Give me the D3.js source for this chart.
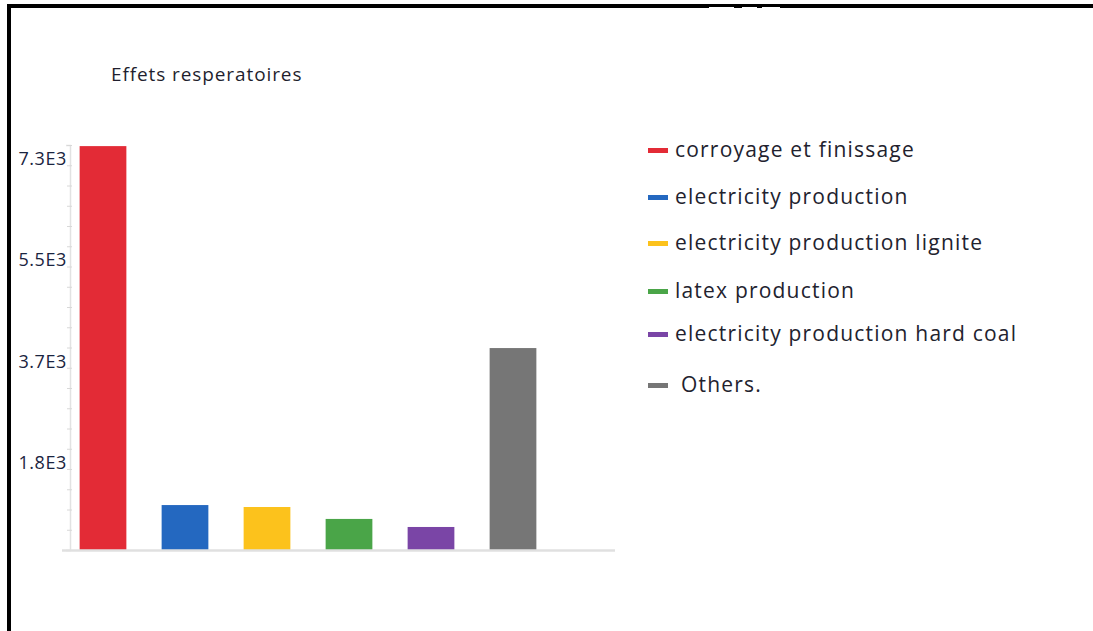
<!DOCTYPE html>
<html>
<head>
<meta charset="utf-8">
<script src="https://cdn.jsdelivr.net/npm/d3@7/dist/d3.min.js"></script>
<style>
  html, body { margin: 0; padding: 0; background: #fff; }
  svg { display: block; }
  text { font-family: "Open Sans", "Noto Sans", sans-serif; }
</style>
</head>
<body>
<svg id="chart" width="1093" height="631"></svg>
<script>
const title = "Effets resperatoires";
const categories = ["corroyage et finissage", "electricity production", "electricity production lignite", "latex production", "electricity production hard coal", "Others."];
const values = [7280, 810, 775, 560, 415, 3640];
const colors = ["#e32b36", "#2468c0", "#fcc21c", "#4aa548", "#7a45a6", "#767676"];
const tickValues = [1825, 3650, 5475, 7300];
const tickLabels = ["1.8E3", "3.7E3", "5.5E3", "7.3E3"];
const yMax = 7300;
const minorStep = 365;

const svg = d3.select("#chart");

// frame (top and left borders)
svg.append("rect").attr("x", 7).attr("y", 4).attr("width", 1086).attr("height", 4).attr("fill", "#000");
svg.append("rect").attr("x", 7).attr("y", 4).attr("width", 4).attr("height", 627).attr("fill", "#000");
// small white gaps in top border
[[709, 25], [742, 15], [762, 18]].forEach(([x, w]) => {
  svg.append("rect").attr("x", x).attr("y", 7).attr("width", w).attr("height", 2).attr("fill", "#fff");
});

const y = d3.scaleLinear().domain([0, yMax]).range([550, 145]);
const x = d3.scaleBand().domain(categories).range([62, 554]).paddingInner(0.43).paddingOuter(0.215);

// title
svg.append("text").attr("x", 111).attr("y", 81).attr("font-size", 19).attr("letter-spacing", 0.9)
  .attr("fill", "#1f1f2e").text(title);

// y axis line + minor ticks
const yAxis = d3.axisLeft(y).tickValues(d3.range(0, yMax + 1, minorStep)).tickSize(4).tickFormat("");
const gy = svg.append("g").attr("transform", "translate(70,0)").call(yAxis);
gy.select(".domain").attr("stroke", "#e2e2e2").attr("stroke-width", 1.5);
gy.selectAll(".tick line").attr("stroke", "#d8d8d8").attr("x2", 2).attr("x1", -3);

// y labels (placed just below each tick, as in reference)
svg.selectAll("text.ylab").data(tickValues).enter().append("text")
  .attr("class", "ylab")
  .attr("x", 67).attr("y", d => y(d) + 20)
  .attr("text-anchor", "end").attr("font-size", 18).attr("letter-spacing", 0.6).attr("fill", "#1a2440")
  .text((d, i) => tickLabels[i]);

// bars
svg.selectAll("rect.bar").data(values).enter().append("rect")
  .attr("class", "bar")
  .attr("x", (d, i) => x(categories[i]))
  .attr("width", x.bandwidth())
  .attr("y", d => y(d))
  .attr("height", d => y(0) - y(d))
  .attr("fill", (d, i) => colors[i]);

// baseline
svg.append("line").attr("x1", 62).attr("x2", 615).attr("y1", 550.5).attr("y2", 550.5)
  .attr("stroke", "#e0e0e0").attr("stroke-width", 2.5);

// legend
const legendY = [150, 197, 243, 291, 334, 385];
const lg = svg.selectAll("g.leg").data(categories).enter().append("g").attr("class", "leg")
  .attr("transform", (d, i) => `translate(648,${legendY[i]})`);
lg.append("rect").attr("x", 0).attr("y", -2).attr("width", 20).attr("height", 5)
  .attr("fill", (d, i) => colors[i]);
lg.append("text").attr("x", (d, i) => i === 5 ? 33 : 27).attr("y", 7)
  .attr("font-size", 21).attr("letter-spacing", 1.2).attr("fill", "#22222e").attr("font-weight", 500)
  .text(d => d);
</script>
</body>
</html>
